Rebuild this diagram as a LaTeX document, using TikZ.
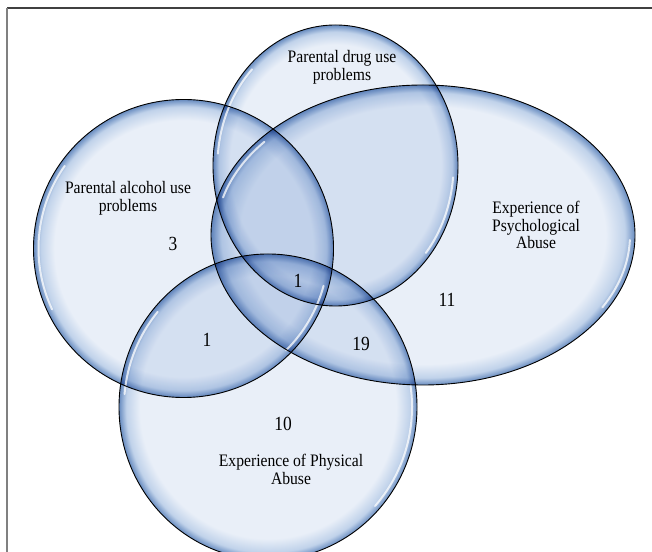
\documentclass[tikz,border=0pt]{standalone}
\usepackage{fontspec}
\setmainfont{Liberation Serif}
\usetikzlibrary{positioning}
\definecolor{venninner}{RGB}{233,239,248}
\definecolor{vennmid}{RGB}{192,210,234}
\definecolor{vennedge}{RGB}{104,140,192}
\pgfdeclareradialshading{bubble}{\pgfpoint{0bp}{0bp}}{color(0bp)=(venninner); color(21.5bp)=(venninner); color(23.8bp)=(vennmid); color(25bp)=(vennedge); color(50bp)=(vennedge)}

\begin{document}
\begin{tikzpicture}[x=1bp, y=1bp,
    lbl/.style={align=center, font=\fontsize{15.7}{16}\selectfont, inner sep=0pt, yscale=1.12, transform shape},
    num/.style={font=\fontsize{17.5}{18}\selectfont, inner sep=0pt, yscale=1.15, transform shape},
    rim/.style={draw=none, shading=bubble},
    gleam/.style={white, line width=2bp, opacity=0.75, line cap=round},
    outline/.style={draw=black, line width=0.9bp}]
    \useasboundingbox (0,0) rectangle (652,552);
    \clip (0,0) rectangle (652,552);

    \coordinate (alc) at (183.5,303.5);
    \coordinate (drug) at (335.5,386.5);
    \coordinate (psy) at (423,317);
    \coordinate (phys) at (268,145);

    % bubbles, darker where they overlap
    \begin{scope}[blend mode=multiply]
      \shade[rim] (alc) ellipse [x radius=150bp, y radius=149bp];
      \shade[rim] (drug) ellipse [x radius=122.5bp, y radius=140.5bp];
      \shade[rim] (psy) ellipse [x radius=212bp, y radius=150bp];
      \shade[rim] (phys) ellipse [x radius=149bp, y radius=153bp];
    \end{scope}

    % glints
    \draw[gleam] (alc) ++(145:145bp and 144bp) arc[start angle=145, end angle=205, x radius=145bp, y radius=144bp];
    \draw[gleam] (alc) ++(-45:145bp and 144bp) arc[start angle=-45, end angle=-15, x radius=145bp, y radius=144bp];
    \draw[gleam] (drug) ++(135:118bp and 136bp) arc[start angle=135, end angle=175, x radius=118bp, y radius=136bp];
    \draw[gleam] (drug) ++(-40:118bp and 136bp) arc[start angle=-40, end angle=-5, x radius=118bp, y radius=136bp];
    \draw[gleam] (psy) ++(140:207bp and 145bp) arc[start angle=140, end angle=165, x radius=207bp, y radius=145bp];
    \draw[gleam] (psy) ++(-30:207bp and 145bp) arc[start angle=-30, end angle=-2, x radius=207bp, y radius=145bp];
    \draw[gleam] (phys) ++(140:144bp and 148bp) arc[start angle=140, end angle=175, x radius=144bp, y radius=148bp];
    \draw[gleam] (phys) ++(-42:144bp and 148bp) arc[start angle=-42, end angle=8, x radius=144bp, y radius=148bp];

    \draw[outline] (alc) ellipse [x radius=150bp, y radius=149bp];
    \draw[outline] (drug) ellipse [x radius=122.5bp, y radius=140.5bp];
    \draw[outline] (psy) ellipse [x radius=212bp, y radius=150bp];
    \draw[outline] (phys) ellipse [x radius=149bp, y radius=153bp];

    \node[lbl] (alclbl) at (128,354) {Parental alcohol use\\problems};
    \node[lbl] (druglbl) at (342,484.5) {Parental drug use\\problems};
    \node[lbl] (psylbl) at (536,327) {Experience of\\Psychological\\Abuse};
    \node[lbl] (physlbl) at (291,83) {Experience of Physical\\Abuse};

    \node[num] (nalc) at (173,308) {3};
    \node[num] (nadp) at (298,271) {1};
    \node[num] (nap) at (207,212) {1};
    \node[num] (npsy) at (447,252) {11};
    \node[num] (npp) at (361,208) {19};
    \node[num] (nphys) at (283,128) {10};

    % frame
    \coordinate (tl) at (7,544);
    \coordinate (tr) at (652,544);
    \coordinate (bl) at (7,0);
    \draw[black!75, line width=1.5bp] (tl) -- (tr);
    \draw[black!50, line width=1.5bp] (tl) -- (bl);
\end{tikzpicture}
\end{document}
